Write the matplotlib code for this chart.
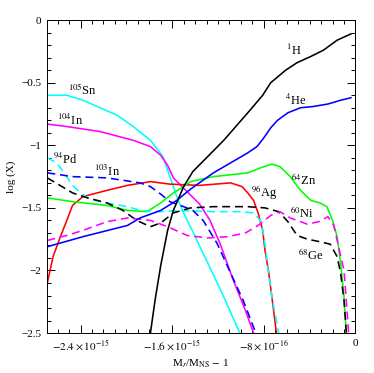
import matplotlib
matplotlib.use("Agg")
import matplotlib.pyplot as plt
import numpy as np

plt.rcParams["font.family"] = "serif"
plt.rcParams["font.serif"] = ["Liberation Serif", "DejaVu Serif"]
plt.rcParams["mathtext.fontset"] = "stix"

# x values are in units of 1e-15 (M_r/M_NS - 1)
h1_x = [-1.79, -1.75, -1.70, -1.64, -1.59, -1.50, -1.42, -1.15, -0.94, -0.81, -0.74, -0.61, -0.51, -0.39, -0.28, -0.16, -0.04]
h1_y = [-2.50, -2.24, -1.96, -1.68, -1.52, -1.33, -1.21, -0.96, -0.74, -0.60, -0.50, -0.40, -0.34, -0.29, -0.24, -0.16, -0.11]

he4_x = [-2.69, -2.38, -1.99, -1.88, -1.70, -1.56, -1.44, -1.24, -1.09, -0.94, -0.86, -0.80, -0.74, -0.68, -0.59, -0.48, -0.37, -0.24, -0.13, -0.04]
he4_y = [-1.81, -1.73, -1.64, -1.58, -1.52, -1.44, -1.35, -1.22, -1.14, -1.06, -1.01, -0.94, -0.86, -0.80, -0.74, -0.70, -0.69, -0.67, -0.64, -0.62]

zn64_x = [-2.69, -2.47, -2.17, -1.99, -1.82, -1.70, -1.59, -1.50, -1.44, -1.24, -0.94, -0.83, -0.73, -0.66, -0.57, -0.48, -0.39, -0.31, -0.25, -0.20, -0.16, -0.13, -0.10, -0.08]
zn64_y = [-1.42, -1.45, -1.48, -1.52, -1.53, -1.46, -1.38, -1.33, -1.29, -1.25, -1.22, -1.18, -1.15, -1.17, -1.25, -1.36, -1.44, -1.46, -1.49, -1.60, -1.73, -1.94, -2.21, -2.50]

ag96_x = [-2.69, -2.64, -2.58, -2.52, -2.47, -2.38, -2.17, -1.99, -1.79, -1.62, -1.36, -1.09, -0.99, -0.94, -0.89, -0.85, -0.81, -0.79, -0.76, -0.73, -0.69]
ag96_y = [-2.10, -1.89, -1.74, -1.60, -1.48, -1.41, -1.36, -1.32, -1.29, -1.31, -1.32, -1.30, -1.33, -1.38, -1.44, -1.54, -1.68, -1.84, -2.00, -2.21, -2.50]

sn105_x = [-2.69, -2.52, -2.38, -2.23, -2.08, -1.94, -1.79, -1.68, -1.62, -1.56, -1.49, -1.42, -1.29, -1.15, -1.01]
sn105_y = [-0.60, -0.60, -0.64, -0.70, -0.76, -0.85, -0.96, -1.09, -1.25, -1.41, -1.56, -1.69, -1.94, -2.21, -2.50]

in104_x = [-2.69, -2.52, -2.23, -1.94, -1.79, -1.70, -1.64, -1.59, -1.47, -1.36, -1.27, -1.18, -1.07, -0.96, -0.89]
in104_y = [-0.83, -0.85, -0.89, -0.96, -1.01, -1.08, -1.16, -1.26, -1.37, -1.47, -1.60, -1.79, -2.07, -2.32, -2.50]

in103_x = [-2.69, -2.47, -2.17, -1.88, -1.79, -1.70, -1.62, -1.50, -1.42, -1.33, -1.21, -1.09, -0.98, -0.87]
in103_y = [-1.22, -1.25, -1.26, -1.30, -1.33, -1.39, -1.45, -1.49, -1.52, -1.60, -1.78, -2.02, -2.24, -2.50]

pd94_x = [-2.69, -2.61, -2.55, -2.47, -2.40, -2.32, -2.17, -1.99, -1.88, -1.70, -1.53, -1.24, -1.01, -0.89, -0.83, -0.80, -0.77, -0.73, -0.67]
pd94_y = [-1.10, -1.14, -1.21, -1.32, -1.38, -1.43, -1.46, -1.49, -1.52, -1.53, -1.52, -1.53, -1.53, -1.54, -1.60, -1.72, -1.94, -2.21, -2.50]

ge68_x = [-2.69, -2.58, -2.47, -2.34, -2.17, -2.03, -1.91, -1.79, -1.70, -1.59, -1.44, -1.24, -0.94, -0.79, -0.67, -0.59, -0.51, -0.42, -0.31, -0.22, -0.16, -0.13, -0.10, -0.08]
ge68_y = [-1.26, -1.32, -1.38, -1.42, -1.46, -1.52, -1.60, -1.65, -1.62, -1.54, -1.50, -1.49, -1.49, -1.50, -1.53, -1.61, -1.72, -1.75, -1.77, -1.79, -1.89, -2.02, -2.24, -2.50]

ni60_x = [-2.69, -2.52, -2.38, -2.17, -1.99, -1.88, -1.79, -1.64, -1.47, -1.29, -1.12, -0.96, -0.85, -0.74, -0.66, -0.57, -0.42, -0.32, -0.24, -0.19, -0.15, -0.10, -0.08, -0.06]
ni60_y = [-1.76, -1.72, -1.68, -1.61, -1.58, -1.59, -1.60, -1.65, -1.72, -1.74, -1.73, -1.70, -1.64, -1.56, -1.53, -1.58, -1.63, -1.61, -1.57, -1.64, -1.80, -2.00, -2.24, -2.50]

# curve labels: text, x, y
labels = [
    (r"$^{1}$H", -0.54, -0.24),
    (r"$^{4}$He", -0.52, -0.64),
    (r"$^{64}$Zn", -0.45, -1.28),
    (r"$^{96}$Ag", -0.80, -1.38),
    (r"$^{60}$Ni", -0.47, -1.54),
    (r"$^{68}$Ge", -0.39, -1.88),
    (r"$^{105}$Sn", -2.38, -0.56),
    (r"$^{104}$In", -2.49, -0.80),
    (r"$^{94}$Pd", -2.53, -1.11),
    (r"$^{103}$In", -2.17, -1.21),
]

xticks = [-2.4, -1.6, -0.8, 0.0]
xtick_labels = [r"$-2.4\times10^{-15}$", r"$-1.6\times10^{-15}$", r"$-8\times10^{-16}$", "0"]
yticks = [-2.5, -2.0, -1.5, -1.0, -0.5, 0.0]
ytick_labels = ["\u22122.5", "\u22122", "\u22121.5", "\u22121", "\u22120.5", "0"]

fig = plt.figure(figsize=(3.74, 3.73), dpi=100)
ax = fig.add_axes([0.125, 0.107, 0.8255, 0.839])

lw = 1.15
dash = (0, (5, 3))
ax.plot(sn105_x, sn105_y, color="#00ffff", lw=lw)
ax.plot(in104_x, in104_y, color="#ff00ff", lw=lw)
ax.plot(ag96_x, ag96_y, color="#ff0000", lw=lw)
ax.plot(zn64_x, zn64_y, color="#00ff00", lw=lw)
ax.plot(pd94_x, pd94_y, color="#00ffff", lw=lw, ls=dash)
ax.plot(in103_x, in103_y, color="#0000ff", lw=lw, ls=dash)
ax.plot(ge68_x, ge68_y, color="black", lw=lw, ls=dash)
ax.plot(ni60_x, ni60_y, color="#ff00ff", lw=lw, ls=dash)
ax.plot(he4_x, he4_y, color="#0000ff", lw=lw)
ax.plot(h1_x, h1_y, color="black", lw=lw)

for txt, x, y in labels:
    ax.text(x, y, txt, fontsize=9, ha="center", va="center")

ax.set_xlim(-2.695, 0.0)
ax.set_ylim(-2.5, 0.0)
ax.set_xticks(xticks)
ax.set_xticklabels(xtick_labels)
ax.set_xticks(np.arange(-2.6, 0.0, 0.1), minor=True)
ax.set_yticks(yticks)
ax.set_yticklabels(ytick_labels)
ax.set_yticks(np.arange(-2.4, 0.0, 0.1), minor=True)
ax.tick_params(which="both", direction="in", top=True, right=True, labelsize=8, width=0.7)
ax.tick_params(which="major", length=6, pad=4)
ax.tick_params(which="minor", length=3)
for s in ax.spines.values():
    s.set_linewidth(0.7)

ax.set_xlabel(r"M$_r$/M$_{\rm NS}$ $-$ 1", fontsize=8, labelpad=3)
ax.set_ylabel("log (X)", fontsize=8, labelpad=4)

fig.savefig("out.png", dpi=100)
